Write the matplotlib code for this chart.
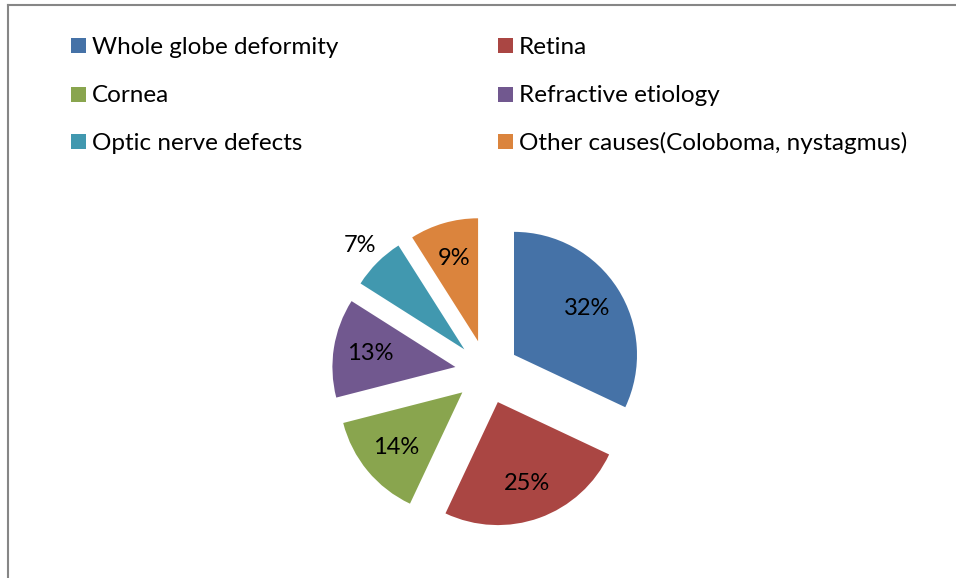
import matplotlib.pyplot as plt
from matplotlib.lines import Line2D
from matplotlib.patches import Rectangle
import numpy as np

plt.rcParams["font.family"] = ["Lato", "DejaVu Sans"]

causes = ["Whole globe deformity", "Retina", "Cornea", "Refractive etiology",
          "Optic nerve defects", "Other causes(Coloboma, nystagmus)"]
shares = [32, 25, 14, 13, 7, 9]
colors = ["#4572A7", "#AA4643", "#89A54E", "#71588F", "#4198AF", "#DB843D"]

W, H = 956, 578
fig = plt.figure(figsize=(W / 100, H / 100), dpi=100)

# pie sits in its own square axes, radius 1 == 123 px
R_PX = 123
cx, cy = 487, 372
half = 1.5 * R_PX
ax = fig.add_axes([(cx - half) / W, (H - cy - half) / H, 2 * half / W, 2 * half / H])

wedges, texts, autotexts = ax.pie(
    shares, colors=colors, startangle=90, counterclock=False,
    explode=[0.26] * len(shares), radius=1.0,
    autopct=lambda p: f"{p:.0f}%", pctdistance=0.70,
    wedgeprops=dict(linewidth=0),
    textprops=dict(fontsize=17, color="black"),
)
ax.set_xlim(-1.5, 1.5)
ax.set_ylim(-1.5, 1.5)
ax.set_aspect("equal")
ax.axis("off")

# small slices get their label outside the wedge
for w, t, v in zip(wedges, autotexts, shares):
    if v < 8:
        mid = np.deg2rad((w.theta1 + w.theta2) / 2)
        t.set_position((w.center[0] + 1.2 * np.cos(mid), w.center[1] + 1.2 * np.sin(mid)))

# legend, two columns, row-major order
col_x = [71, 498]
row_y = [45, 94, 141]
sq = 15
for i, (lab, col) in enumerate(zip(causes, colors)):
    x = col_x[i % 2]
    y = row_y[i // 2]
    fig.add_artist(Rectangle((x / W, (H - y - sq / 2) / H), sq / W, sq / H,
                             transform=fig.transFigure, facecolor=col, edgecolor="none"))
    fig.text((x + sq + 6) / W, (H - y) / H, lab, ha="left", va="center_baseline",
             fontsize=17.5, color="black")

# chart border (left and top edges)
fig.add_artist(Line2D([8 / W, 8 / W], [0, (H - 5) / H], color="#868686", lw=1.5,
                      transform=fig.transFigure))
fig.add_artist(Line2D([8 / W, 1], [(H - 5) / H, (H - 5) / H], color="#868686", lw=1.5,
                      transform=fig.transFigure))

fig.savefig("out.png", dpi=100)
